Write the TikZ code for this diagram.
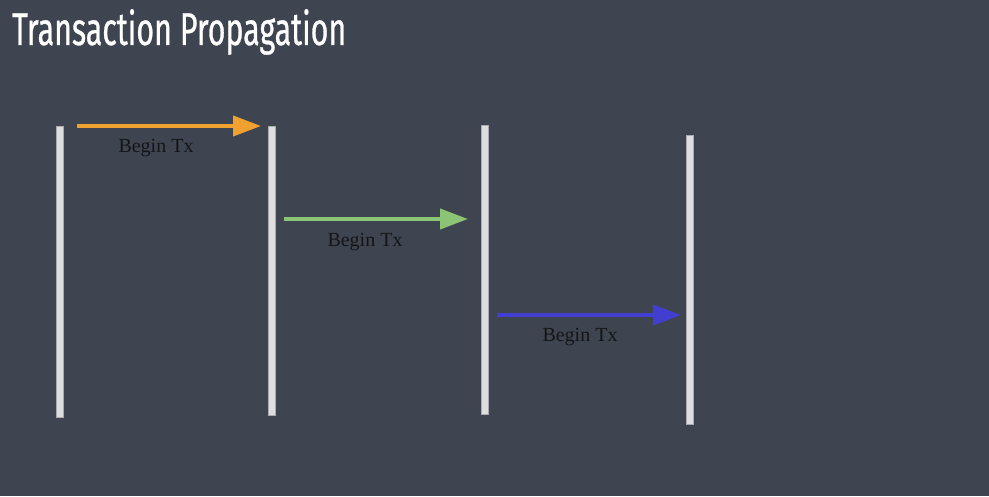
\documentclass[tikz,border=0pt]{standalone}
\usepackage{fontspec}
\setmainfont{Liberation Serif}
\newfontfamily\titlefont[FakeStretch=0.66, FakeBold=0.6]{Fira Sans}
\usepackage{tikz}
\usetikzlibrary{arrows.meta, positioning}

\definecolor{slidebg}{RGB}{62,69,80}
\definecolor{barfill}{RGB}{222,222,225}
\definecolor{barline}{RGB}{170,170,175}
\definecolor{txorange}{RGB}{240,162,48}
\definecolor{txgreen}{RGB}{140,196,118}
\definecolor{txblue}{RGB}{66,62,208}
\definecolor{labeltext}{RGB}{20,20,24}

\tikzset{
    lifeline/.style={draw=barline, fill=barfill, line width=0.5pt, minimum width=7pt, inner sep=0pt, anchor=north},
    msg/.style={line width=4pt, -{Triangle[length=28pt, width=20pt]}},
    msglabel/.style={font=\fontsize{20}{23}\selectfont, text=labeltext, inner sep=0pt}
}

\begin{document}
\begin{tikzpicture}[x=1pt, y=1pt]
        % 背景
        \fill[slidebg] (0,0) rectangle (989,496);
        \useasboundingbox (0,0) rectangle (989,496);

        % 标题
        \node[anchor=base west, text=white, font=\titlefont\fontsize{46}{50}\selectfont, inner sep=0pt] (title) at (12,451) {Transaction Propagation};

        % 生命线
        \node[lifeline, minimum height=291pt] (l1) at (60,370) {};
        \node[lifeline, minimum height=289pt] (l2) at (272,370) {};
        \node[lifeline, minimum height=289pt] (l3) at (485,371) {};
        \node[lifeline, minimum height=289pt] (l4) at (690,361) {};

        % 消息箭头
        \coordinate (s1) at (77,370);  \coordinate (e1) at (261,370);
        \coordinate (s2) at (284,277); \coordinate (e2) at (468,277);
        \coordinate (s3) at (497,181); \coordinate (e3) at (681,181);

        \draw[msg, txorange] (s1) -- (e1);
        \draw[msg, txgreen] (s2) -- (e2);
        \draw[msg, txblue] (s3) -- (e3);

        \node[msglabel] (t1) at (156,348) {Begin Tx};
        \node[msglabel] (t2) at (365,254) {Begin Tx};
        \node[msglabel] (t3) at (580,159) {Begin Tx};
    \end{tikzpicture}
\end{document}
